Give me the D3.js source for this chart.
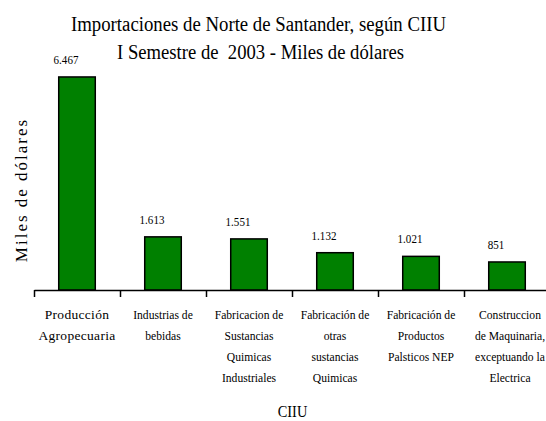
<!DOCTYPE html>
<html>
<head>
<meta charset="utf-8">
<script src="https://cdn.jsdelivr.net/npm/d3@7"></script>
<style>
  body { margin: 0; background: #fff; }
  text { font-family: "Liberation Serif", "Times New Roman", serif; fill: #000; }
</style>
</head>
<body>
<div id="chart"></div>
<script>
const width = 546;
const height = 421;
const serif = "Liberation Serif, Times New Roman, serif";

// Data
const categories = [
  "Producción Agropecuaria",
  "Industrias de bebidas",
  "Fabricacion de Sustancias Quimicas Industriales",
  "Fabricación de otras sustancias Quimicas",
  "Fabricación de Productos Palsticos NEP",
  "Construccion de Maquinaria, exceptuando la Electrica"
];
const categoryLines = [
  ["Producción", "Agropecuaria"],
  ["Industrias de", "bebidas"],
  ["Fabricacion de", "Sustancias", "Quimicas", "Industriales"],
  ["Fabricación de", "otras", "sustancias", "Quimicas"],
  ["Fabricación de", "Productos", "Palsticos NEP"],
  ["Construccion", "de Maquinaria,", "exceptuando la", "Electrica"]
];
const values = [6467, 1613, 1551, 1132, 1021, 851];
const titleLines = ["Importaciones de Norte de Santander, según CIIU", "I Semestre de  2003 - Miles de dólares"];

const esFormat = d3.formatLocale({ decimal: ",", thousands: ".", grouping: [3], currency: ["$", ""] }).format(",");

const svg = d3.select("#chart").append("svg")
  .attr("width", width)
  .attr("height", height);

// Scales (plot runs past the right edge, as in the original)
const x = d3.scaleBand()
  .domain(categories)
  .range([34, 550])
  .paddingInner(0.575)
  .paddingOuter(0.2875);

const y = d3.scaleLinear()
  .domain([0, 7000])
  .range([290, 59.4]);

// Title
svg.append("g")
  .selectAll("text")
  .data(titleLines)
  .join("text")
  .attr("x", (d, i) => i === 0 ? 258.5 : 260.5)
  .attr("y", (d, i) => i === 0 ? 31 : 59)
  .attr("text-anchor", "middle")
  .attr("font-family", serif)
  .attr("font-size", 20)
  .style("white-space", "pre")
  .attr("textLength", (d, i) => i === 0 ? 375 : 287)
  .attr("lengthAdjust", "spacingAndGlyphs")
  .text(d => d);

// Bars
svg.append("g")
  .selectAll("rect")
  .data(values)
  .join("rect")
  .attr("x", (d, i) => x(categories[i]))
  .attr("y", d => y(d))
  .attr("width", x.bandwidth())
  .attr("height", d => y(0) - y(d))
  .attr("fill", "#008000")
  .attr("stroke", "#000")
  .attr("stroke-width", 1.5);

// Value labels (sit a bit left of the bar centre), narrow like the original font
svg.append("g")
  .selectAll("text")
  .data(values)
  .join("text")
  .attr("transform", (d, i) => `translate(${x(categories[i]) + x.bandwidth() / 2 - 11},${y(d) - 13}) scale(0.85,1)`)
  .attr("text-anchor", "middle")
  .attr("font-family", serif)
  .attr("font-size", 13)
  .text(d => esFormat(d));

// X axis: tick marks at the category boundaries
const xEdges = d3.scaleLinear().domain([0, categories.length]).range(x.range());
svg.append("g")
  .attr("transform", `translate(0,${y(0)})`)
  .call(d3.axisBottom(xEdges).ticks(categories.length).tickSize(7).tickSizeOuter(0).tickFormat(""))
  .call(g => g.select(".domain").attr("stroke-width", 1.5))
  .call(g => g.selectAll(".tick line").attr("stroke-width", 1.5));

// Category labels
const catLabel = svg.append("g")
  .selectAll("text")
  .data(categories)
  .join("text")
  .attr("transform", (d, i) => {
    const cx = x(d) + x.bandwidth() / 2 + (i === 5 ? 3 : 0);
    return `translate(${cx},319) scale(${i === 0 ? 1 : 0.86},1)`;
  })
  .attr("text-anchor", "middle")
  .attr("font-family", serif)
  .attr("font-size", 13.5)
  .attr("letter-spacing", (d, i) => i === 0 ? 0.3 : 0);

catLabel.selectAll("tspan")
  .data((d, i) => categoryLines[i])
  .join("tspan")
  .attr("x", 0)
  .attr("dy", (d, j) => j === 0 ? 0 : 21)
  .text(d => d);

// Axis titles
svg.append("text")
  .attr("transform", "translate(292.5,417) scale(0.9,1)")
  .attr("text-anchor", "middle")
  .attr("font-family", serif)
  .attr("font-size", 16)
  .text("CIIU");

svg.append("text")
  .attr("transform", "translate(27,190) rotate(-90)")
  .attr("text-anchor", "middle")
  .attr("font-family", serif)
  .attr("font-size", 17)
  .attr("letter-spacing", 2)
  .text("Miles de dólares");
</script>
</body>
</html>
